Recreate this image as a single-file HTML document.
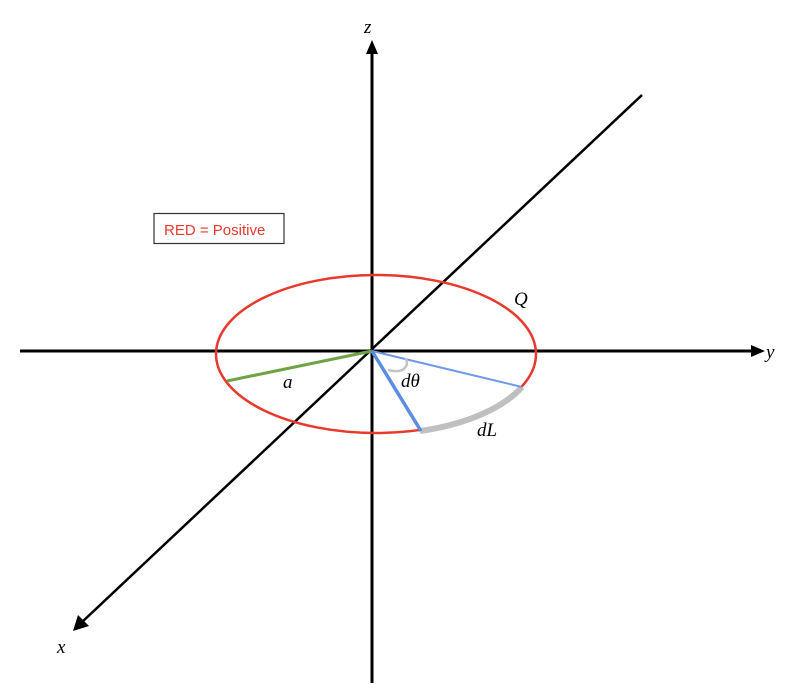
<!DOCTYPE html>
<html><head><style>html,body{margin:0;padding:0;background:#fff;}svg{display:block;}</style></head>
<body>
<svg width="800" height="697" viewBox="0 0 800 697" xmlns="http://www.w3.org/2000/svg">
<rect width="800" height="697" fill="#fff"/>
<line x1="372" y1="683" x2="372" y2="50" stroke="#000" stroke-width="3"/>
<polygon points="372,40 366,54 378,54" fill="#000"/>
<line x1="20" y1="351" x2="755" y2="351" stroke="#000" stroke-width="3"/>
<polygon points="765,351 751,345 751,357" fill="#000"/>
<line x1="642" y1="95" x2="81" y2="623" stroke="#000" stroke-width="2.5"/>
<polygon points="73,631 78,615 89,626" fill="#000"/>
<ellipse cx="376" cy="354" rx="160" ry="79" fill="none" stroke="#e8392d" stroke-width="2.5"/>
<path d="M420,431 A160,79 0 0 0 522,387" fill="none" stroke="#bfbfbf" stroke-width="6"/>
<line x1="372" y1="351" x2="227" y2="381" stroke="#6fa346" stroke-width="3"/>
<line x1="372" y1="351" x2="522" y2="387" stroke="#6f98e8" stroke-width="2"/>
<line x1="372" y1="351" x2="421" y2="431" stroke="#5b8de3" stroke-width="3.5"/>
<path d="M388,370 Q404,374 407,364 L406,358" fill="none" stroke="#c4c4c4" stroke-width="2.5"/>
<rect x="154" y="213.5" width="130" height="30" fill="#fff" stroke="#333" stroke-width="1.2"/>
<text x="164" y="235" font-family="Liberation Sans, sans-serif" font-size="15" fill="#e8392d">RED = Positive</text>
<g font-family="Liberation Serif, serif" font-style="italic" font-size="19" fill="#000">
<text x="364" y="33">z</text>
<text x="766" y="358">y</text>
<text x="57" y="653">x</text>
<text x="514" y="305">Q</text>
<text x="283" y="388">a</text>
<text x="401" y="387">dθ</text>
<text x="477" y="436">dL</text>
</g>
</svg>
</body></html>
